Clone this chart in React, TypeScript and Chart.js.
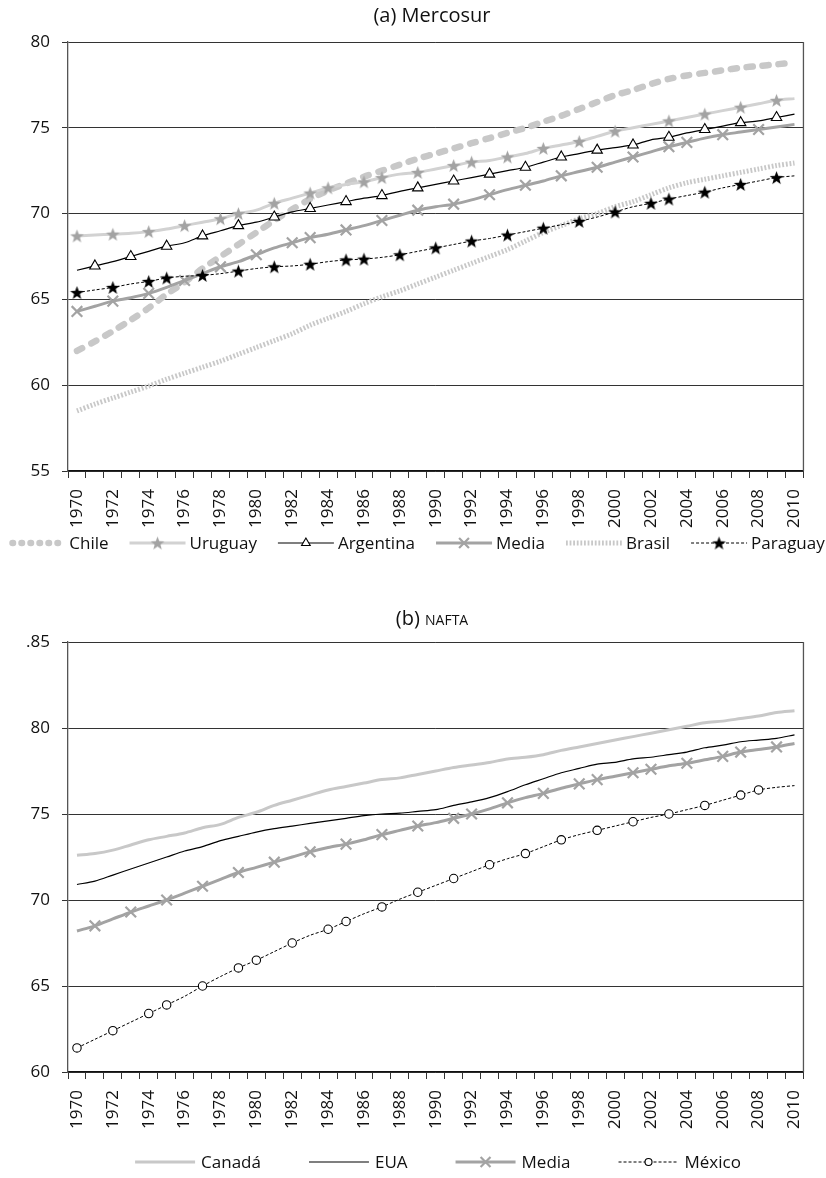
import React, { useEffect, useRef } from 'react';
import { Chart, registerables } from 'chart.js';

Chart.register(...registerables);

// ---------- data ----------
const YEARS = [
  '1970', '1971', '1972', '1973', '1974', '1975', '1976', '1977', '1978', '1979',
  '1980', '1981', '1982', '1983', '1984', '1985', '1986', '1987', '1988', '1989',
  '1990', '1991', '1992', '1993', '1994', '1995', '1996', '1997', '1998', '1999',
  '2000', '2001', '2002', '2003', '2004', '2005', '2006', '2007', '2008', '2009', '2010',
];

// (a) Mercosur
const CHILE = [62.0, 62.55, 63.15, 63.8, 64.5, 65.3, 66.0, 66.8, 67.5, 68.2, 68.9, 69.6, 70.25, 70.85, 71.35, 71.75, 72.15, 72.5, 72.85, 73.2, 73.5, 73.8, 74.1, 74.4, 74.7, 75.0, 75.35, 75.7, 76.1, 76.5, 76.9, 77.2, 77.55, 77.85, 78.05, 78.2, 78.35, 78.5, 78.6, 78.7, 78.8];
const URUGUAY = [68.7, 68.75, 68.8, 68.85, 68.95, 69.1, 69.3, 69.5, 69.7, 70.0, 70.2, 70.6, 70.9, 71.2, 71.5, 71.7, 71.85, 72.1, 72.3, 72.4, 72.6, 72.8, 73.0, 73.1, 73.3, 73.5, 73.8, 74.0, 74.2, 74.5, 74.8, 75.0, 75.2, 75.4, 75.6, 75.8, 76.0, 76.2, 76.4, 76.6, 76.7];
const ARGENTINA = [66.7, 66.95, 67.2, 67.5, 67.8, 68.1, 68.3, 68.7, 69.0, 69.3, 69.5, 69.8, 70.1, 70.3, 70.5, 70.7, 70.9, 71.05, 71.3, 71.5, 71.7, 71.9, 72.1, 72.3, 72.5, 72.7, 73.0, 73.3, 73.5, 73.7, 73.85, 74.0, 74.3, 74.45, 74.7, 74.9, 75.1, 75.3, 75.4, 75.6, 75.8];
const MEDIA_MERCOSUR = [64.3, 64.6, 64.9, 65.1, 65.35, 65.7, 66.1, 66.5, 66.9, 67.2, 67.6, 68.0, 68.3, 68.6, 68.8, 69.05, 69.3, 69.6, 69.9, 70.2, 70.4, 70.55, 70.8, 71.1, 71.4, 71.65, 71.9, 72.2, 72.45, 72.7, 73.0, 73.3, 73.6, 73.9, 74.15, 74.4, 74.6, 74.75, 74.9, 75.05, 75.2];
const BRASIL = [58.5, 58.9, 59.25, 59.6, 59.95, 60.35, 60.7, 61.05, 61.4, 61.8, 62.2, 62.6, 63.0, 63.5, 63.9, 64.3, 64.75, 65.15, 65.5, 65.9, 66.3, 66.7, 67.1, 67.5, 67.9, 68.4, 68.9, 69.3, 69.7, 70.0, 70.4, 70.7, 71.1, 71.5, 71.8, 72.0, 72.2, 72.4, 72.6, 72.8, 72.95];
const PARAGUAY = [65.4, 65.55, 65.7, 65.9, 66.05, 66.25, 66.35, 66.4, 66.5, 66.65, 66.8, 66.9, 66.95, 67.05, 67.2, 67.3, 67.35, 67.45, 67.6, 67.8, 68.0, 68.2, 68.4, 68.55, 68.75, 68.95, 69.15, 69.35, 69.55, 69.8, 70.1, 70.4, 70.6, 70.85, 71.05, 71.25, 71.5, 71.7, 71.9, 72.1, 72.2];

// (b) NAFTA
const CANADA = [72.6, 72.7, 72.9, 73.2, 73.5, 73.7, 73.9, 74.2, 74.4, 74.8, 75.1, 75.5, 75.8, 76.1, 76.4, 76.6, 76.8, 77.0, 77.1, 77.3, 77.5, 77.7, 77.85, 78.0, 78.2, 78.3, 78.45, 78.7, 78.9, 79.1, 79.3, 79.5, 79.7, 79.9, 80.1, 80.3, 80.4, 80.55, 80.7, 80.9, 81.0];
const EUA = [70.9, 71.1, 71.45, 71.8, 72.15, 72.5, 72.85, 73.1, 73.45, 73.7, 73.95, 74.15, 74.3, 74.45, 74.6, 74.75, 74.9, 75.0, 75.05, 75.15, 75.25, 75.5, 75.7, 75.95, 76.3, 76.7, 77.05, 77.4, 77.65, 77.9, 78.0, 78.2, 78.3, 78.45, 78.6, 78.85, 79.0, 79.2, 79.3, 79.4, 79.6];
const MEDIA_NAFTA = [68.2, 68.5, 68.9, 69.3, 69.65, 70.0, 70.4, 70.8, 71.2, 71.6, 71.9, 72.2, 72.5, 72.8, 73.05, 73.25, 73.5, 73.8, 74.05, 74.3, 74.5, 74.75, 75.0, 75.3, 75.65, 75.95, 76.2, 76.5, 76.75, 77.0, 77.2, 77.4, 77.6, 77.8, 77.95, 78.15, 78.35, 78.6, 78.75, 78.9, 79.1];
const MEXICO = [61.4, 61.9, 62.4, 62.9, 63.4, 63.9, 64.4, 65.0, 65.55, 66.05, 66.5, 67.0, 67.5, 67.95, 68.3, 68.75, 69.2, 69.6, 70.05, 70.45, 70.85, 71.25, 71.65, 72.05, 72.4, 72.7, 73.1, 73.5, 73.8, 74.05, 74.3, 74.55, 74.8, 75.0, 75.25, 75.5, 75.8, 76.1, 76.4, 76.55, 76.65];

// years (index) that carry a marker
const URUGUAY_MARKS = [0, 2, 4, 6, 8, 9, 11, 13, 14, 16, 17, 19, 21, 22, 24, 26, 28, 30, 33, 35, 37, 39];
const ARGENTINA_MARKS = [1, 3, 5, 7, 9, 11, 13, 15, 17, 19, 21, 23, 25, 27, 29, 31, 33, 35, 37, 39];
const MEDIA_M_MARKS = [0, 2, 4, 6, 8, 10, 12, 13, 15, 17, 19, 21, 23, 25, 27, 29, 31, 33, 34, 36, 38];
const PARAGUAY_MARKS = [0, 2, 4, 5, 7, 9, 11, 13, 15, 16, 18, 20, 22, 24, 26, 28, 30, 32, 33, 35, 37, 39];
const MEDIA_N_MARKS = [1, 3, 5, 7, 9, 11, 13, 15, 17, 19, 21, 22, 24, 26, 28, 29, 31, 32, 34, 36, 37, 39];
const MEXICO_MARKS = [0, 2, 4, 5, 7, 9, 10, 12, 14, 15, 17, 19, 21, 23, 25, 27, 29, 31, 33, 35, 37, 38];

const TOP_TICKS = [55, 60, 65, 70, 75, 80];
const BOTTOM_TICK_LABELS: Record<number, string> = { 60: '60', 65: '65', 70: '70', 75: '75', 80: '80', 85: '.85' };

// ---------- helpers ----------
const FONT = '"Open Sans", "Noto Sans", sans-serif';

function makeStar(fill: string, size: number) {
  const c = document.createElement('canvas');
  c.width = size;
  c.height = size;
  const ctx = c.getContext('2d')!;
  const cx = size / 2;
  const cy = size / 2 + 0.6;
  const R = size / 2 - 0.3;
  const r = R * 0.42;
  ctx.beginPath();
  for (let i = 0; i < 10; i++) {
    const a = -Math.PI / 2 + (i * Math.PI) / 5;
    const rr = i % 2 === 0 ? R : r;
    ctx.lineTo(cx + rr * Math.cos(a), cy + rr * Math.sin(a));
  }
  ctx.closePath();
  ctx.fillStyle = fill;
  ctx.fill();
  return c;
}

function radii(marks: number[], r: number) {
  return YEARS.map((_, i) => (marks.includes(i) ? r : 0));
}

function drawMarker(ctx: CanvasRenderingContext2D, ds: any, x: number, y: number) {
  const style = ds.pointStyle;
  const r = ds.legendRadius || 0;
  if (!r) return;
  ctx.save();
  ctx.setLineDash([]);
  if (style && typeof style === 'object') {
    ctx.drawImage(style, x - style.width / 2, y - style.height / 2);
    ctx.restore();
    return;
  }
  ctx.lineWidth = ds.pointBorderWidth || 1;
  ctx.strokeStyle = ds.pointBorderColor || '#000';
  ctx.fillStyle = ds.pointBackgroundColor || '#fff';
  ctx.beginPath();
  if (style === 'triangle') {
    for (let k = 0; k < 3; k++) {
      const a = (k * 2 * Math.PI) / 3;
      ctx.lineTo(x + Math.sin(a) * r, y - Math.cos(a) * r);
    }
    ctx.closePath();
    ctx.fill();
    ctx.stroke();
  } else if (style === 'circle') {
    ctx.arc(x, y, r, 0, Math.PI * 2);
    ctx.fill();
    ctx.stroke();
  } else if (style === 'crossRot') {
    const o = r * Math.SQRT1_2;
    ctx.moveTo(x - o, y - o);
    ctx.lineTo(x + o, y + o);
    ctx.moveTo(x + o, y - o);
    ctx.lineTo(x - o, y + o);
    ctx.stroke();
  }
  ctx.restore();
}

const decorPlugin = {
  id: 'decor',
  afterDraw(chart: any, _args: any, opts: any) {
    const { ctx, chartArea } = chart;
    ctx.save();
    // right frame line
    ctx.strokeStyle = '#555';
    ctx.lineWidth = 1.3;
    ctx.beginPath();
    ctx.moveTo(chartArea.right, chartArea.top);
    ctx.lineTo(chartArea.right, chartArea.bottom);
    ctx.stroke();

    // title
    const parts: { text: string; size: number }[] = opts.title;
    let total = 0;
    parts.forEach((p) => {
      ctx.font = `${p.size}px ${FONT}`;
      total += ctx.measureText(p.text).width;
    });
    let tx = opts.titleX - total / 2;
    ctx.fillStyle = '#111';
    ctx.textBaseline = 'alphabetic';
    ctx.textAlign = 'left';
    parts.forEach((p) => {
      ctx.font = `${p.size}px ${FONT}`;
      ctx.fillText(p.text, tx, opts.titleBaseline);
      tx += ctx.measureText(p.text).width;
    });

    // legend
    ctx.font = `${opts.legendFont}px ${FONT}`;
    const dsets = chart.data.datasets;
    const order: number[] = opts.legendOrder;
    const widths = order.map((i) => ctx.measureText(dsets[i].label).width);
    const full =
      widths.reduce((a: number, b: number) => a + b, 0) +
      order.length * (opts.sampleW + opts.textGap) +
      (order.length - 1) * opts.itemGap;
    let x = opts.legendX - full / 2;
    const y = opts.legendY;
    order.forEach((i, k) => {
      const ds = dsets[i];
      ctx.save();
      ctx.strokeStyle = ds.borderColor;
      ctx.lineWidth = ds.borderWidth;
      ctx.lineCap = ds.borderCapStyle || 'butt';
      ctx.setLineDash(ds.legendDash || ds.borderDash || []);
      ctx.beginPath();
      const inset = ds.borderCapStyle === 'round' ? ds.borderWidth / 2 : 0;
      ctx.moveTo(x + inset, y);
      ctx.lineTo(x + opts.sampleW - inset, y);
      ctx.stroke();
      ctx.restore();
      drawMarker(ctx, ds, x + opts.sampleW / 2, y);
      ctx.fillStyle = '#111';
      ctx.textBaseline = 'middle';
      ctx.textAlign = 'left';
      ctx.fillText(ds.label, x + opts.sampleW + opts.textGap, y + 1);
      x += opts.sampleW + opts.textGap + widths[k] + opts.itemGap;
    });
    ctx.restore();
  },
};

function xScale() {
  return {
    type: 'category' as const,
    offset: true,
    ticks: {
      autoSkip: false,
      minRotation: 90,
      maxRotation: 90,
      padding: 11,
      color: '#111',
      font: { family: FONT, size: 17 },
      callback: (_v: any, i: number) => (i % 2 === 0 ? YEARS[i] : ''),
    },
    grid: { offset: true, drawOnChartArea: false, drawTicks: true, tickLength: 7, color: '#333', lineWidth: 1 },
    border: { display: true, color: '#111', width: 1.2 },
    afterFit: (s: any) => {
      s.height = 60;
    },
  };
}

function yScale(min: number, max: number, labelFn: (v: number) => string) {
  return {
    min,
    max,
    ticks: {
      stepSize: 5,
      padding: 12,
      color: '#111',
      font: { family: FONT, size: 17 },
      callback: (v: any) => labelFn(Number(v)),
    },
    grid: { color: '#333', lineWidth: 1, tickLength: 6, drawTicks: true },
    border: { display: true, color: '#555', width: 1.3 },
    afterFit: (s: any) => {
      s.width = 68;
    },
  };
}

export default function App() {
  const topRef = useRef<HTMLCanvasElement>(null);
  const botRef = useRef<HTMLCanvasElement>(null);

  useEffect(() => {
    const starGray = makeStar('#a3a3a3', 15);
    const starBlack = makeStar('#000000', 15);

    const top = new Chart(topRef.current!, {
      type: 'line',
      data: {
        labels: YEARS,
        datasets: [
          {
            label: 'Paraguay', data: PARAGUAY, borderColor: '#000', borderWidth: 1, borderDash: [3, 2],
            pointStyle: starBlack as any, pointRadius: radii(PARAGUAY_MARKS, 7), legendRadius: 7, tension: 0.3,
          } as any,
          {
            label: 'Argentina', data: ARGENTINA, borderColor: '#000', borderWidth: 1.2,
            pointStyle: 'triangle', pointRadius: radii(ARGENTINA_MARKS, 6), pointBackgroundColor: '#fff',
            pointBorderColor: '#000', pointBorderWidth: 1.1, legendRadius: 5, tension: 0.3,
          } as any,
          {
            label: 'Media', data: MEDIA_MERCOSUR, borderColor: '#a3a3a3', borderWidth: 3,
            pointStyle: 'crossRot', pointRadius: radii(MEDIA_M_MARKS, 7.5), pointBorderColor: '#a3a3a3',
            pointBorderWidth: 2.2, legendRadius: 7, tension: 0.3,
          } as any,
          {
            label: 'Uruguay', data: URUGUAY, borderColor: '#d2d2d2', borderWidth: 3,
            pointStyle: starGray as any, pointRadius: radii(URUGUAY_MARKS, 7), legendRadius: 7, tension: 0.3,
          } as any,
          {
            label: 'Chile', data: CHILE, borderColor: '#c8c8c8', borderWidth: 6.5, borderDash: [6, 10],
            legendDash: [0.5, 8.5],
            borderCapStyle: 'round', pointRadius: 0, legendRadius: 0, tension: 0.3,
          } as any,
          {
            label: 'Brasil', data: BRASIL, borderColor: '#c8c8c8', borderWidth: 5, borderDash: [1.8, 1.8],
            pointRadius: 0, legendRadius: 0, tension: 0.3,
          } as any,
        ],
      },
      options: {
        responsive: false,
        animation: false,
        events: [],
        layout: { padding: { top: 42, left: 0, right: 9, bottom: 39 } },
        scales: {
          x: xScale() as any,
          y: yScale(55, 80, (v) => (TOP_TICKS.includes(v) ? String(v) : '')) as any,
        },
        plugins: {
          legend: { display: false },
          tooltip: { enabled: false },
          title: { display: false },
          decor: {
            title: [{ text: '(a) ', size: 20 }, { text: 'Mercosur', size: 20 }],
            titleX: 432,
            titleBaseline: 22,
            legendOrder: [4, 3, 1, 2, 5, 0],
            legendX: 417,
            legendY: 543,
            legendFont: 17,
            sampleW: 56,
            textGap: 4,
            itemGap: 21,
          },
        } as any,
      },
      plugins: [decorPlugin],
    });

    const bot = new Chart(botRef.current!, {
      type: 'line',
      data: {
        labels: YEARS,
        datasets: [
          {
            label: 'México', data: MEXICO, borderColor: '#000', borderWidth: 1, borderDash: [3, 2],
            pointStyle: 'circle', pointRadius: radii(MEXICO_MARKS, 4.2), pointBackgroundColor: '#fff',
            pointBorderColor: '#000', pointBorderWidth: 1.1, legendRadius: 3.5, tension: 0.3,
          } as any,
          {
            label: 'EUA', data: EUA, borderColor: '#000', borderWidth: 1.2, pointRadius: 0, legendRadius: 0, tension: 0.3,
          } as any,
          {
            label: 'Media', data: MEDIA_NAFTA, borderColor: '#a3a3a3', borderWidth: 3,
            pointStyle: 'crossRot', pointRadius: radii(MEDIA_N_MARKS, 7.5), pointBorderColor: '#a3a3a3',
            pointBorderWidth: 2.2, legendRadius: 7, tension: 0.3,
          } as any,
          {
            label: 'Canadá', data: CANADA, borderColor: '#c8c8c8', borderWidth: 3, pointRadius: 0, legendRadius: 0, tension: 0.3,
          } as any,
        ],
      },
      options: {
        responsive: false,
        animation: false,
        events: [],
        layout: { padding: { top: 72, left: 0, right: 9, bottom: 46 } },
        scales: {
          x: xScale() as any,
          y: yScale(60, 85, (v) => BOTTOM_TICK_LABELS[v] ?? '') as any,
        },
        plugins: {
          legend: { display: false },
          tooltip: { enabled: false },
          title: { display: false },
          decor: {
            title: [{ text: '(b) ', size: 20 }, { text: 'NAFTA', size: 14 }],
            titleX: 432,
            titleBaseline: 55,
            legendOrder: [3, 1, 2, 0],
            legendX: 438,
            legendY: 592,
            legendFont: 17,
            sampleW: 60,
            textGap: 6,
            itemGap: 48,
          },
        } as any,
      },
      plugins: [decorPlugin],
    });

    return () => {
      top.destroy();
      bot.destroy();
    };
  }, []);

  return (
    <div style={{ position: 'absolute', left: 0, top: 0, width: 826, height: 1178, background: '#fff' }}>
      <canvas ref={topRef} width={826} height={570} style={{ position: 'absolute', left: 0, top: 0 }} />
      <canvas ref={botRef} width={826} height={608} style={{ position: 'absolute', left: 0, top: 570 }} />
    </div>
  );
}
